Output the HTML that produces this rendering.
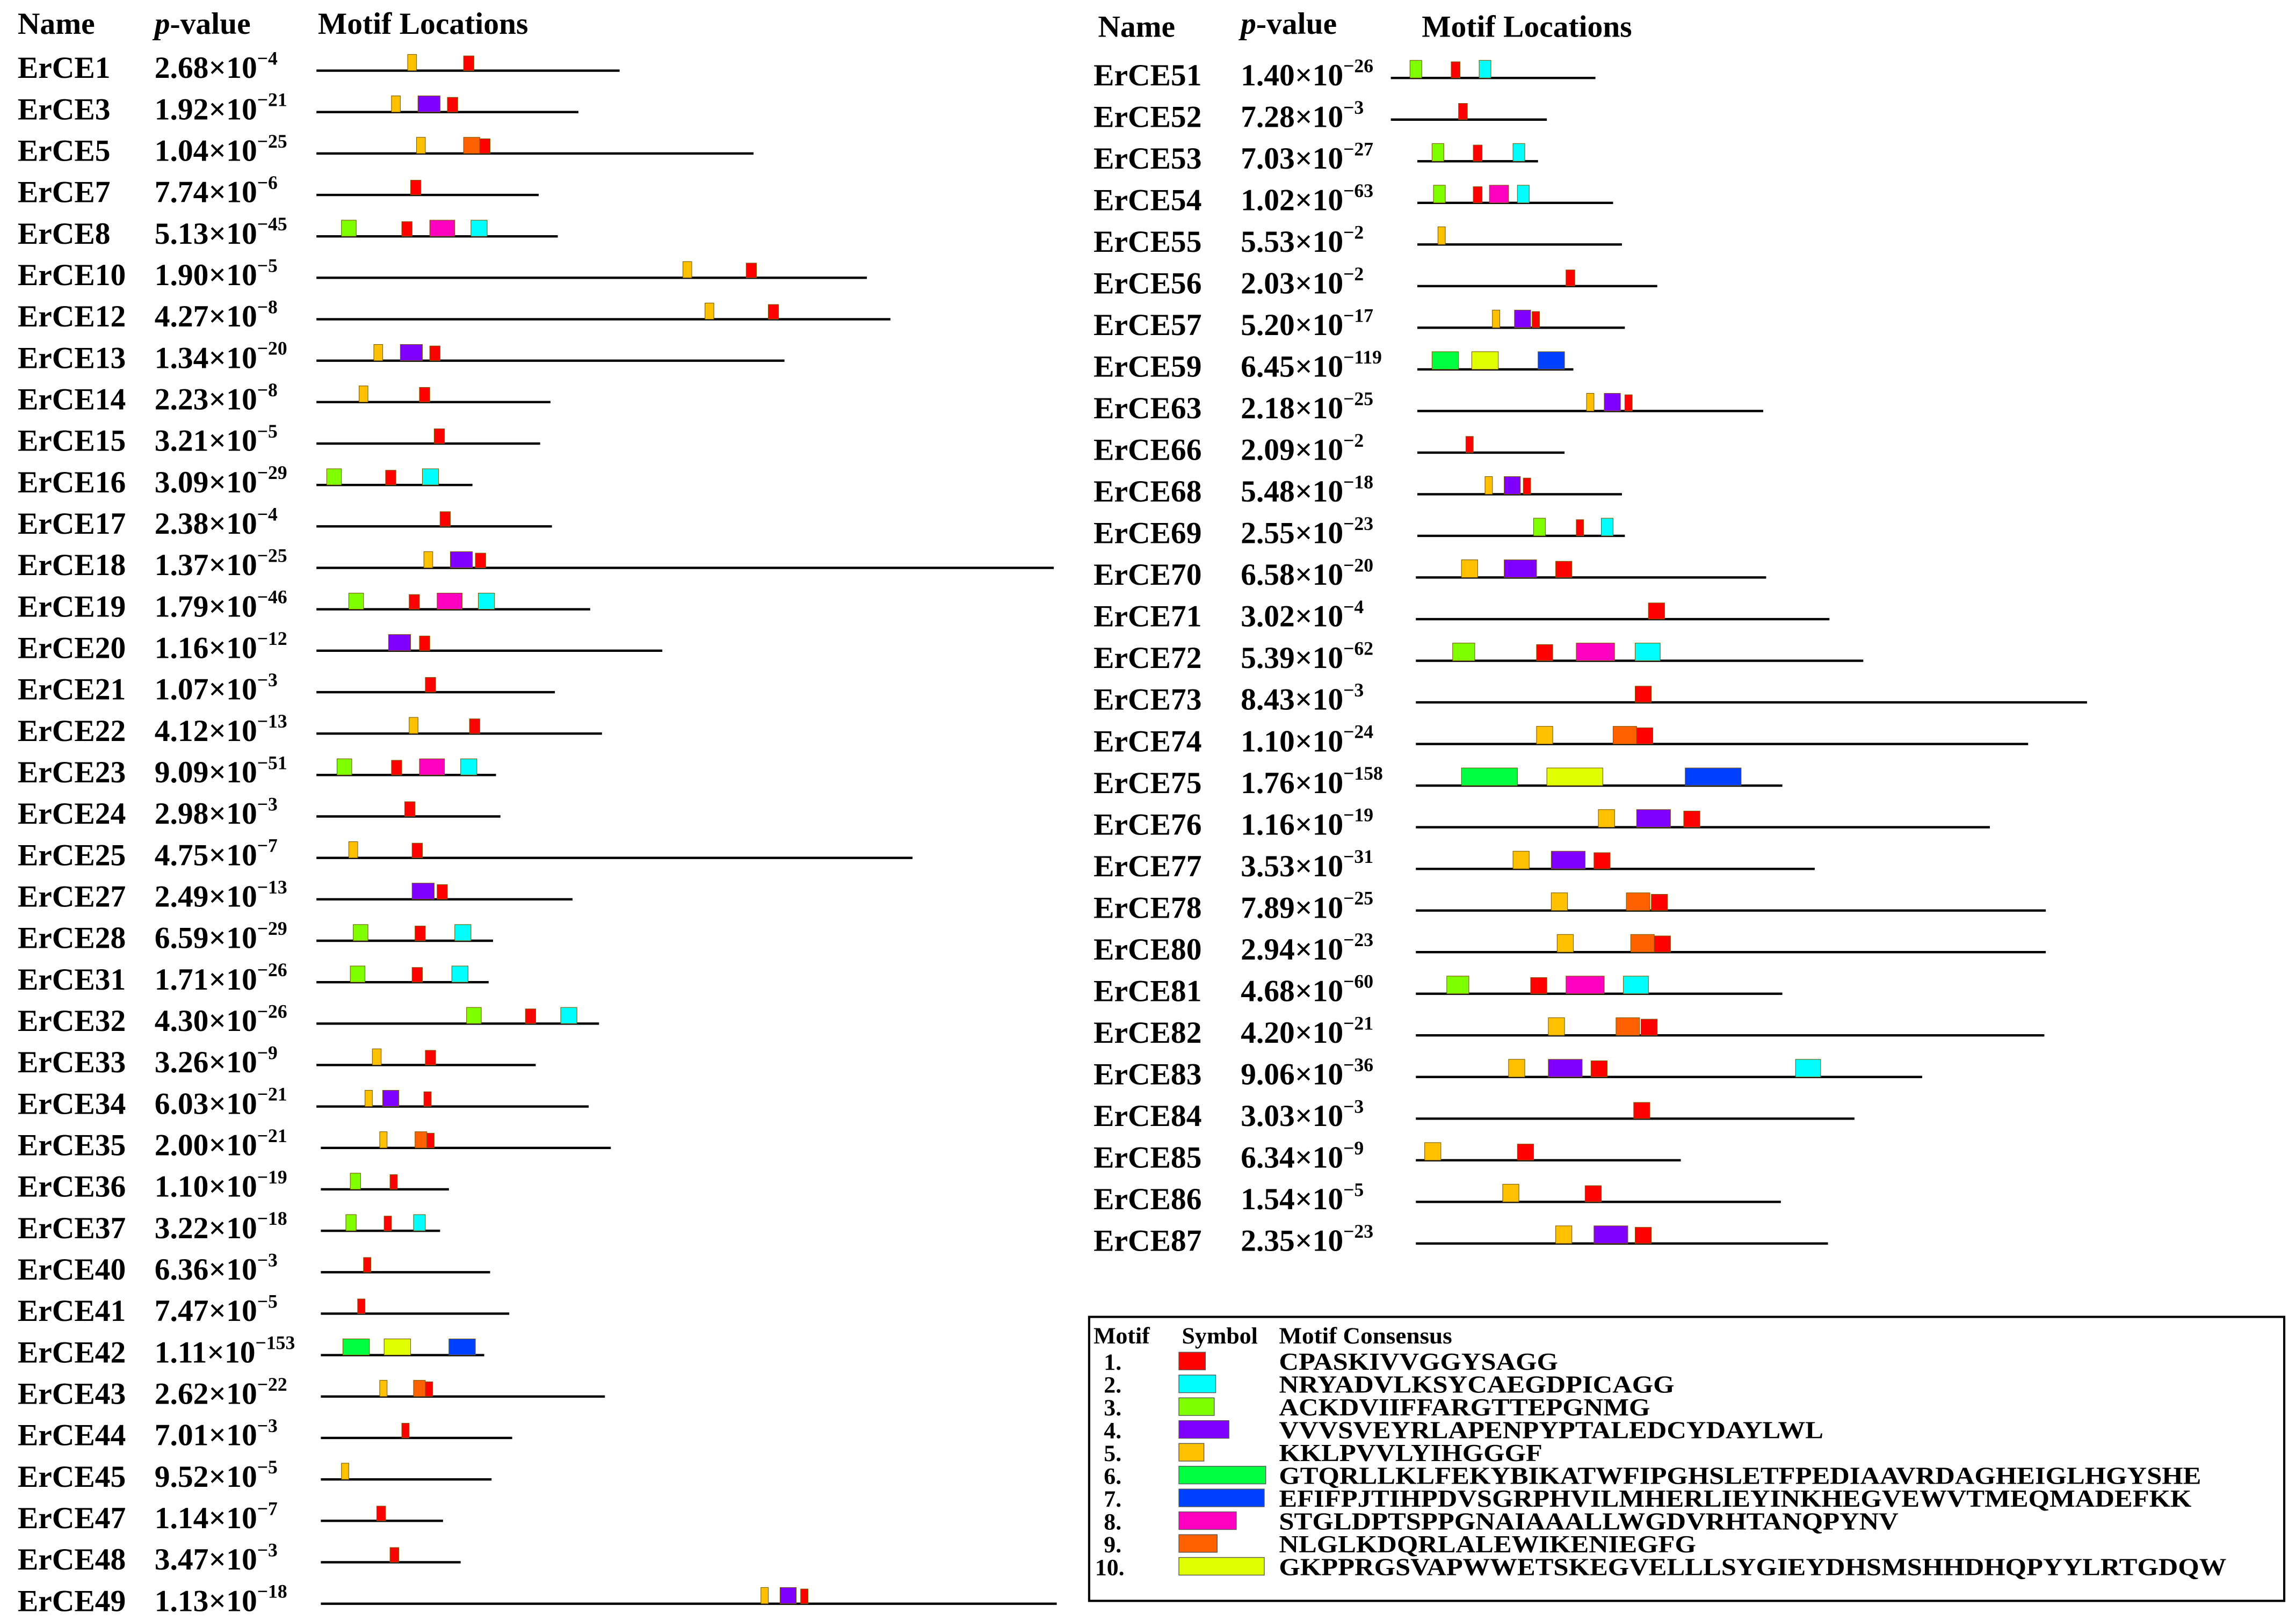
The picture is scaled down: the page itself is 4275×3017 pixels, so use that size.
<!DOCTYPE html>
<html><head><meta charset="utf-8"><style>
html,body{margin:0;padding:0;background:#fff;}
svg{display:block;font-family:"Liberation Serif",serif;font-weight:bold;}
</style></head><body>
<svg id="chart" xmlns="http://www.w3.org/2000/svg" width="4275" height="3017" viewBox="0 0 1560 1101" preserveAspectRatio="none">
<rect x="0" y="0" width="1560" height="1101" fill="#fff"/>
<g font-size="21">
<text x="12" y="23">Name</text><text x="105" y="23"><tspan font-style="italic">p</tspan>-value</text><text x="216" y="23">Motif Locations</text>
</g>
<g font-size="21">
<text x="746" y="25">Name</text><text x="843" y="23"><tspan font-style="italic">p</tspan>-value</text><text x="966" y="25">Motif Locations</text>
</g>
<g id="rows"></g>
<g id="legend"></g>
</svg>
<script>
const motifColors=["#ff0000","#00ffff","#80ff00","#8000ff","#ffc000","#00ff40","#0040ff","#ff00c0","#ff6000","#e0ff00"];
const motifConsensus=["CPASKIVVGGYSAGG","NRYADVLKSYCAEGDPICAGG","ACKDVIIFFARGTTEPGNMG","VVVSVEYRLAPENPYPTALEDCYDAYLWL","KKLPVVLYIHGGGF","GTQRLLKLFEKYBIKATWFIPGHSLETFPEDIAAVRDAGHEIGLHGYSHE","EFIFPJTIHPDVSGRPHVILMHERLIEYINKHEGVEWVTMEQMADEFKK","STGLDPTSPPGNAIAAALLWGDVRHTANQPYNV","NLGLKDQRLALEWIKENIEGFG","GKPPRGSVAPWWETSKEGVELLLSYGIEYDHSMSHHDHQPYYLRTGDQW"];
const legendWidths=[18,25,24,34,17,59,58,39,26,58];
const defaultW=[7,11,10,15,6,38,38,17,11,38];
const leftNames=["ErCE1","ErCE3","ErCE5","ErCE7","ErCE8","ErCE10","ErCE12","ErCE13","ErCE14","ErCE15","ErCE16","ErCE17","ErCE18","ErCE19","ErCE20","ErCE21","ErCE22","ErCE23","ErCE24","ErCE25","ErCE27","ErCE28","ErCE31","ErCE32","ErCE33","ErCE34","ErCE35","ErCE36","ErCE37","ErCE40","ErCE41","ErCE42","ErCE43","ErCE44","ErCE45","ErCE47","ErCE48","ErCE49"];
const leftMant=["2.68","1.92","1.04","7.74","5.13","1.90","4.27","1.34","2.23","3.21","3.09","2.38","1.37","1.79","1.16","1.07","4.12","9.09","2.98","4.75","2.49","6.59","1.71","4.30","3.26","6.03","2.00","1.10","3.22","6.36","7.47","1.11","2.62","7.01","9.52","1.14","3.47","1.13"];
const leftExp=[-4,-21,-25,-6,-45,-5,-8,-20,-8,-5,-29,-4,-25,-46,-12,-3,-13,-51,-3,-7,-13,-29,-26,-26,-9,-21,-21,-19,-18,-3,-5,-153,-22,-3,-5,-7,-3,-18];
const leftStart=[215,215,215,215,215,215,215,215,215,215,215,215,215,215,215,215,215,215,215,215,215,215,215,215,215,215,218,218,218,218,218,218,218,218,218,218,218,218];
const leftEnd=[421,393,512,366,379,589,605,533,374,367,321,375,716,401,450,377,409,337,340,620,389,335,332,407,364,400,415,305,299,333,346,329,411,348,334,301,313,718];
const leftMotifs=[
[[5,277],[1,315]],[[5,266],[4,284],[1,304]],[[5,283],[9,315],[1,326]],[[1,279]],[[3,232],[1,273],[8,292],[2,320]],
[[5,464],[1,507]],[[5,479],[1,522]],[[5,254],[4,272],[1,292]],[[5,244],[1,285]],[[1,295]],
[[3,222],[1,262],[2,287]],[[1,299]],[[5,288],[4,306],[1,323]],[[3,237],[1,278],[8,297],[2,325]],[[4,264],[1,285]],
[[1,289]],[[5,278],[1,319]],[[3,229],[1,266],[8,285],[2,313]],[[1,275]],[[5,237],[1,280]],
[[4,280],[1,297]],[[3,240],[1,282],[2,309]],[[3,238],[1,280],[2,307]],[[3,317],[1,357],[2,381]],[[5,253],[1,289]],
[[5,248,5],[4,260,11],[1,288,5]],[[5,258,5],[9,282,8],[1,290,5]],[[3,238,7],[1,265,5]],[[3,235,7],[1,261,5],[2,281,8]],[[1,247,5]],
[[1,243,5]],[[6,233,18],[10,261,18],[7,305,18]],[[5,258,5],[9,281,8],[1,289,5]],[[1,273,5]],[[5,232,5]],
[[1,256,6]],[[1,265,6]],[[5,517,5],[4,530,11],[1,544,5]]];
const rightNames=["ErCE51","ErCE52","ErCE53","ErCE54","ErCE55","ErCE56","ErCE57","ErCE59","ErCE63","ErCE66","ErCE68","ErCE69","ErCE70","ErCE71","ErCE72","ErCE73","ErCE74","ErCE75","ErCE76","ErCE77","ErCE78","ErCE80","ErCE81","ErCE82","ErCE83","ErCE84","ErCE85","ErCE86","ErCE87"];
const rightMant=["1.40","7.28","7.03","1.02","5.53","2.03","5.20","6.45","2.18","2.09","5.48","2.55","6.58","3.02","5.39","8.43","1.10","1.76","1.16","3.53","7.89","2.94","4.68","4.20","9.06","3.03","6.34","1.54","2.35"];
const rightExp=[-26,-3,-27,-63,-2,-2,-17,-119,-25,-2,-18,-23,-20,-4,-62,-3,-24,-158,-19,-31,-25,-23,-60,-21,-36,-3,-9,-5,-23];
const rightStart=[945,945,963,963,963,963,963,963,963,963,963,963,962,962,962,962,962,962,962,962,962,962,962,962,962,962,962,962,962];
const rightEnd=[1084,1051,1045,1096,1102,1126,1104,1069,1198,1063,1102,1104,1200,1243,1266,1418,1378,1211,1352,1233,1390,1390,1211,1389,1306,1260,1142,1210,1242];
const rightMotifs=[
[[3,958,8],[1,986,6],[2,1005,8]],[[1,991,6]],[[3,973,8],[1,1001,6],[2,1028,8]],[[3,974,8],[1,1001,6],[8,1012,13],[2,1031,8]],[[5,977,5]],
[[1,1064,6]],[[5,1014,5],[4,1029,11],[1,1041,5]],[[6,973,18],[10,1000,18],[7,1045,18]],[[5,1078,5],[4,1090,11],[1,1104,5]],[[1,996,5]],
[[5,1009,5],[4,1022,11],[1,1035,5]],[[3,1042,8],[1,1071,5],[2,1088,8]],[[5,993,11],[4,1022,22],[1,1057,11]],[[1,1120,11]],[[3,987,15],[1,1044,11],[8,1071,26],[2,1111,17]],
[[1,1111,11]],[[5,1044,11],[9,1096,16],[1,1112,11]],[[6,993,38],[10,1051,38],[7,1145,38]],[[5,1086,11],[4,1112,23],[1,1144,11]],[[5,1028,11],[4,1054,23],[1,1083,11]],
[[5,1054,11],[9,1105,16],[1,1122,11]],[[5,1058,11],[9,1108,16],[1,1124,11]],[[3,983,15],[1,1040,11],[8,1064,26],[2,1103,17]],[[5,1052,11],[9,1098,16],[1,1115,11]],[[5,1025,11],[4,1052,23],[1,1081,11],[2,1220,17]],
[[1,1110,11]],[[5,968,11],[1,1031,11]],[[5,1021,11],[1,1077,11]],[[5,1057,11],[4,1083,23],[1,1111,11]]];

const NS="http://www.w3.org/2000/svg";
const rowsG=document.getElementById('rows');
function mk(tag,attrs,parent){const e=document.createElementNS(NS,tag);for(const k in attrs)e.setAttribute(k,attrs[k]);parent.appendChild(e);return e;}
function drawColumn(names,mant,exp,starts,ends,motifs,nameX,pX,y0,dy,boxH){
  names.forEach((nm,i)=>{
    const y=y0+i*dy;
    const g=mk('g',{},rowsG);
    
    
    const t=mk('text',{x:nameX,y:y+5,'font-size':21},g);
    t.textContent=nm;
    
    
    const p=mk('text',{x:pX,y:y+5,'font-size':21},g);
    
    
    const a=mk('tspan',{},p);a.textContent=mant[i]+"×10";
    const b=mk('tspan',{dy:-9,'font-size':13},p);b.textContent="−"+Math.abs(exp[i]);
    const ln=mk('line',{x1:starts[i],x2:ends[i],y1:y,y2:y,stroke:'#000','stroke-width':1.6},g);
    
    
    motifs[i].forEach(m=>{
      const idx=m[0]-1;const w=m[2]||defaultW[idx];
      const h=(idx===0)?boxH-1:boxH;
      const r=mk('rect',{x:m[1],y:y-h,width:w,height:h,fill:motifColors[idx],stroke:'#7a5a00','stroke-width':0.4},g);
      
      
    });
  });
}
drawColumn(leftNames,leftMant,leftExp,leftStart,leftEnd,leftMotifs,12,105,48,28.16,11);
drawColumn(rightNames,rightMant,rightExp,rightStart,rightEnd,rightMotifs,743,843,53,28.29,12);

const lg=document.getElementById('legend');
const frame=mk('rect',{x:740,y:895,width:812,height:193,fill:'none',stroke:'#000','stroke-width':1.5},lg);


function stretch(t,f){const L=t.getComputedTextLength();t.setAttribute('textLength',L*f);t.setAttribute('lengthAdjust','spacingAndGlyphs');}
const hdr=mk('text',{x:743,y:913,'font-size':16},lg);hdr.textContent="Motif";
const hdr2=mk('text',{x:803,y:913,'font-size':16},lg);hdr2.textContent="Symbol";
const hdr3=mk('text',{x:869,y:913,'font-size':16},lg);hdr3.textContent="Motif Consensus";
stretch(hdr3,1.03);
motifConsensus.forEach((c,i)=>{
  const y=931+i*15.5;
  const g=mk('g',{},lg);
  
  
  const n=mk('text',{x:(i<9?750:744),y:y,'font-size':16},g);n.textContent=(i+1)+".";
  const r=mk('rect',{x:801,y:y-12,width:legendWidths[i],height:12,fill:motifColors[i],stroke:'#555','stroke-width':0.5},g);
  
  
  const t=mk('text',{x:869,y:y,'font-size':16.5},g);t.textContent=c;
  stretch(t,1.12);
});
</script>
</body></html>
